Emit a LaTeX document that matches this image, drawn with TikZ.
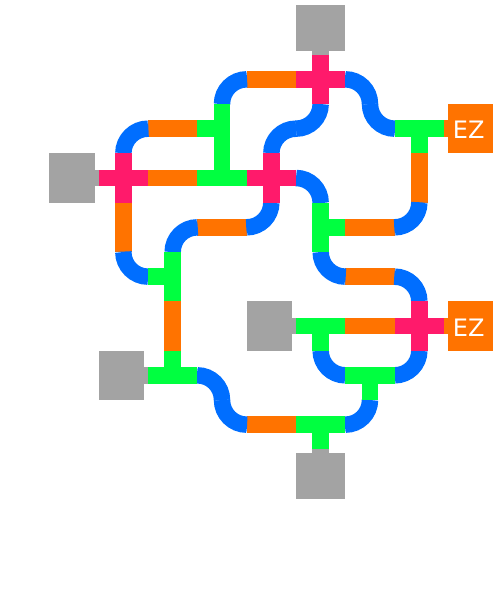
\documentclass[tikz,border=0pt]{standalone}
\usepackage{fontspec}
\setsansfont{DejaVu Sans}
\usepackage{xcolor}
\usepackage{tikz}
\definecolor{wireblue}{HTML}{006EFF}
\definecolor{wireorange}{HTML}{FF7300}
\definecolor{wiregreen}{HTML}{00FF40}
\definecolor{wirepink}{HTML}{FF1A6B}
\definecolor{termgray}{HTML}{A3A3A3}
\tikzset{
  cell/.style={rectangle, inner sep=0pt, outer sep=0pt, minimum size=49.33pt},
  termh/.style={rectangle, inner sep=0pt, outer sep=0pt, minimum width=45.22pt, minimum height=49.33pt},
  termv/.style={rectangle, inner sep=0pt, outer sep=0pt, minimum width=49.33pt, minimum height=45.22pt},
  wire/.style={line width=16.44pt, line cap=butt},
  straight/.style={wire, draw=wireorange},
  curved/.style={wire, draw=wireblue, rounded corners=24.67pt},
  tee/.style={wire, draw=wiregreen},
  xing/.style={wire, draw=wirepink},
  stubg/.style={wire, draw=termgray},
  stubo/.style={wire, draw=wireorange},
}
\begin{document}
\begin{tikzpicture}[
  x=49.33pt, y=-49.33pt,
  ezlbl/.style={text=white, text height=20.1pt, font=\sffamily\fontsize{24}{26}\selectfont},
]
\useasboundingbox (0,-0.108) rectangle (10.034,12.034);
% terminals
\node[termv, fill=termgray]   (srcT) at (6.5,0.458)  {};
\node[termh, fill=termgray]   (srcL) at (1.458,3.5)  {};
\node[termh, fill=termgray]   (srcM) at (5.458,6.5)  {};
\node[termh, fill=termgray]   (srcS) at (2.458,7.5)  {};
\node[termv, fill=termgray]   (srcB) at (6.5,9.542)  {};
\node[termh, fill=wireorange, ezlbl] (ezA) at (9.542,2.5) {\kern-4pt EZ};
\node[termh, fill=wireorange, ezlbl] (ezB) at (9.542,6.5) {\kern-4pt EZ};
% crossings
\node[cell] (x61) at (6.5,1.5) {};
\node[cell] (x23) at (2.5,3.5) {};
\node[cell] (x53) at (5.5,3.5) {};
\node[cell] (x86) at (8.5,6.5) {};
% tees
\node[cell] (t82) at (8.5,2.5) {};
\node[cell] (t42) at (4.5,2.5) {};
\node[cell] (t43) at (4.5,3.5) {};
\node[cell] (t64) at (6.5,4.5) {};
\node[cell] (t35) at (3.5,5.5) {};
\node[cell] (t66) at (6.5,6.5) {};
\node[cell] (t37) at (3.5,7.5) {};
\node[cell] (t77) at (7.5,7.5) {};
\node[cell] (t68) at (6.5,8.5) {};
% straight pieces
\node[cell] (o51) at (5.5,1.5) {};
\node[cell] (o32) at (3.5,2.5) {};
\node[cell] (o33) at (3.5,3.5) {};
\node[cell] (o83) at (8.5,3.5) {};
\node[cell] (o24) at (2.5,4.5) {};
\node[cell] (o44) at (4.5,4.5) {};
\node[cell] (o74) at (7.5,4.5) {};
\node[cell] (o75) at (7.5,5.5) {};
\node[cell] (o36) at (3.5,6.5) {};
\node[cell] (o76) at (7.5,6.5) {};
\node[cell] (o58) at (5.5,8.5) {};
% bends
\node[cell] (b41) at (4.5,1.5) {};
\node[cell] (b71) at (7.5,1.5) {};
\node[cell] (b22) at (2.5,2.5) {};
\node[cell] (b52) at (5.5,2.5) {};
\node[cell] (b62) at (6.5,2.5) {};
\node[cell] (b72) at (7.5,2.5) {};
\node[cell] (b63) at (6.5,3.5) {};
\node[cell] (b34) at (3.5,4.5) {};
\node[cell] (b54) at (5.5,4.5) {};
\node[cell] (b84) at (8.5,4.5) {};
\node[cell] (b25) at (2.5,5.5) {};
\node[cell] (b65) at (6.5,5.5) {};
\node[cell] (b85) at (8.5,5.5) {};
\node[cell] (b47) at (4.5,7.5) {};
\node[cell] (b67) at (6.5,7.5) {};
\node[cell] (b87) at (8.5,7.5) {};
\node[cell] (b48) at (4.5,8.5) {};
\node[cell] (b78) at (7.5,8.5) {};
% stubs
\draw[stubg] (srcT.south) -- (x61.north);
\draw[stubg] (srcL.east)  -- (x23.west);
\draw[stubg] (srcM.east)  -- (t66.west);
\draw[stubg] (srcS.east)  -- (t37.west);
\draw[stubg] (srcB.north) -- (t68.south);
\draw[stubo] (ezA.west)   -- (t82.east);
\draw[stubo] (ezB.west)   -- (x86.east);
% straight
\draw[straight] (o51.west)  -- (o51.east);
\draw[straight] (o32.west)  -- (o32.east);
\draw[straight] (o33.west)  -- (o33.east);
\draw[straight] (o83.north) -- (o83.south);
\draw[straight] (o24.north) -- (o24.south);
\draw[straight] (o44.west)  -- (o44.east);
\draw[straight] (o74.west)  -- (o74.east);
\draw[straight] (o75.west)  -- (o75.east);
\draw[straight] (o36.north) -- (o36.south);
\draw[straight] (o76.west)  -- (o76.east);
\draw[straight] (o58.west)  -- (o58.east);
% bends
\draw[curved] (b41.south) |- (b41.east);
\draw[curved] (b71.south) |- (b71.west);
\draw[curved] (b22.south) |- (b22.east);
\draw[curved] (b52.south) |- (b52.east);
\draw[curved] (b62.north) |- (b62.west);
\draw[curved] (b72.north) |- (b72.east);
\draw[curved] (b63.south) |- (b63.west);
\draw[curved] (b34.south) |- (b34.east);
\draw[curved] (b54.north) |- (b54.west);
\draw[curved] (b84.north) |- (b84.west);
\draw[curved] (b25.north) |- (b25.east);
\draw[curved] (b65.north) |- (b65.east);
\draw[curved] (b85.south) |- (b85.west);
\draw[curved] (b47.south) |- (b47.west);
\draw[curved] (b67.north) |- (b67.east);
\draw[curved] (b87.north) |- (b87.west);
\draw[curved] (b48.north) |- (b48.east);
\draw[curved] (b78.north) |- (b78.west);
% tees
\draw[tee] (t82.west)  -- (t82.east)  (t82.center) -- (t82.south);
\draw[tee] (t42.north) -- (t42.south) (t42.center) -- (t42.west);
\draw[tee] (t43.west)  -- (t43.east)  (t43.center) -- (t43.north);
\draw[tee] (t64.north) -- (t64.south) (t64.center) -- (t64.east);
\draw[tee] (t35.north) -- (t35.south) (t35.center) -- (t35.west);
\draw[tee] (t66.west)  -- (t66.east)  (t66.center) -- (t66.south);
\draw[tee] (t37.west)  -- (t37.east)  (t37.center) -- (t37.north);
\draw[tee] (t77.west)  -- (t77.east)  (t77.center) -- (t77.south);
\draw[tee] (t68.west)  -- (t68.east)  (t68.center) -- (t68.south);
% crossings
\draw[xing] (x61.west) -- (x61.east) (x61.north) -- (x61.south);
\draw[xing] (x23.west) -- (x23.east) (x23.north) -- (x23.south);
\draw[xing] (x53.west) -- (x53.east) (x53.north) -- (x53.south);
\draw[xing] (x86.west) -- (x86.east) (x86.north) -- (x86.south);
\end{tikzpicture}
\end{document}
